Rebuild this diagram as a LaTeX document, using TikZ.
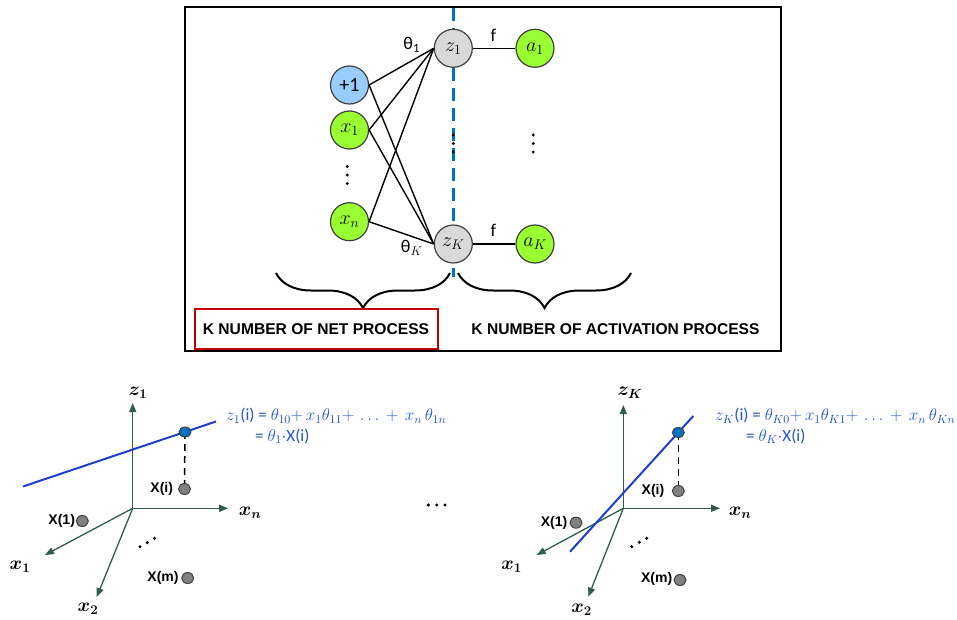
\RequirePackage{fix-cm}
\documentclass[tikz,border=0pt]{standalone}
\usepackage[no-math]{fontspec}
\setmainfont{Liberation Sans}
\newfontfamily\calib{Carlito}
\usepackage{bm}
\usetikzlibrary{arrows.meta,decorations.pathreplacing,shapes.geometric}

\definecolor{biasblue}{HTML}{99CCFF}
\definecolor{neongreen}{HTML}{99FF33}
\definecolor{sumgray}{HTML}{D9D9D9}
\definecolor{ringgray}{HTML}{404040}
\definecolor{splitblue}{HTML}{0070C0}
\definecolor{boxred}{HTML}{C00000}
\definecolor{axisgreen}{HTML}{2F5D50}
\definecolor{lineblue}{HTML}{1F3FD0}
\definecolor{eqblue}{HTML}{2352CC}
\definecolor{pointgray}{HTML}{808080}

\tikzset{
  neuron/.style={circle, draw=ringgray, line width=1.2pt, minimum size=38pt,
    inner sep=0pt, font=\fontsize{20}{20}\selectfont},
  biasnode/.style={neuron, fill=biasblue},
  innode/.style={neuron, fill=neongreen},
  sumnode/.style={neuron, fill=sumgray},
  outnode/.style={neuron, fill=neongreen},
  wire/.style={draw=black, line width=1.4pt},
  wlabel/.style={font=\calib\fontsize{18}{18}\selectfont, inner sep=0pt},
  caption/.style={font=\bfseries\fontsize{15.6}{16}\selectfont, inner sep=0pt},
  brace/.style={draw=black, line width=2pt,
    decorate, decoration={brace, amplitude=35pt, mirror}},
  axis/.style={draw=axisgreen, line width=1.3pt,
    -{Triangle[length=9pt,width=7pt]}},
  axlab/.style={font=\fontsize{19}{19}\selectfont, inner sep=0pt},
  fitline/.style={draw=lineblue, line width=2pt},
  hitpoint/.style={ellipse, fill=splitblue, draw=ringgray, line width=1pt,
    minimum width=12pt, minimum height=10pt, inner sep=0pt},
  sample/.style={ellipse, fill=pointgray, draw=ringgray, line width=1pt,
    minimum width=12pt, minimum height=11pt, inner sep=0pt},
  slab/.style={font=\bfseries\fontsize{14}{14}\selectfont, inner sep=0pt},
  drop/.style={draw=black, line width=1.5pt, dash pattern=on 7pt off 5pt},
  eq/.style={font=\calib\fontsize{17}{20.5}\selectfont, text=eqblue,
    inner sep=0pt, anchor=north west, align=left},
}

\begin{document}
\begin{tikzpicture}[x=1pt, y=-1pt]
\useasboundingbox (0,0) rectangle (957,620);

% ---------- network panel ----------
\node[draw=black, line width=1.5pt, minimum width=596pt, minimum height=344pt,
  inner sep=0pt] (panel) at (483,179) {};

% dividing line between net and activation stages
\coordinate (cutTop) at (453,8);
\coordinate (cutBot) at (453,277);
\draw[draw=splitblue, line width=3pt, dash pattern=on 13pt off 7pt] (cutTop) -- (cutBot);

\node[biasnode] (bias) at (349.5,85) {\calib +1};
\node[innode] (x1) at (349.5,130) {$x_1$};
\node[innode] (xn) at (349.5,221.7) {$x_n$};
\node[sumnode] (z1) at (453.3,48.3) {$z_1$};
\node[sumnode] (zK) at (453.3,244) {$z_K$};
\node[outnode] (a1) at (535,48.3) {$a_1$};
\node[outnode] (aK) at (535,244) {$a_K$};

\foreach \src in {bias,x1,xn}{
  \draw[wire] (\src.east) -- (z1.west);
  \draw[wire] (\src.east) -- (zK.west);
}
\draw[wire] (z1.east) -- (a1.west);
\draw[wire] (zK.east) -- (aK.west);

\node[wlabel] (th1) at (411.7,45) {θ\textsubscript{1}};
\node[wlabel] (thK) at (411.7,248) {θ$_K$};
\node[wlabel] (f1) at (493.3,35) {f};
\node[wlabel] (fK) at (493.3,230) {f};

% vertical ellipses
\foreach \cx/\cy in {347.3/175, 453.3/143.5, 533.3/143.5}{
  \foreach \dy in {-8.5,0,8.5}{
    \fill[black] (\cx,\cy+\dy) circle (1.6pt);
  }
}

% braces and captions
\draw[brace] (276,273) -- (450,273);
\draw[brace] (458,273) -- (631,273);
\node[draw=boxred, line width=2pt, minimum width=243.5pt, minimum height=40pt,
  inner sep=0pt] (netbox) at (316.25,329) {};
\node[caption] (netcap) at (316,329.5) {K NUMBER OF NET PROCESS};
\node[caption] (actcap) at (615.5,329.5) {K NUMBER OF ACTIVATION PROCESS};

% ---------- first neuron: regression plane ----------
\coordinate (oA) at (132.7,508.3);
\coordinate (zA) at (132.7,403);
\coordinate (nA) at (228,508.3);
\coordinate (pA) at (45,555);
\coordinate (qA) at (96.7,597);
\draw[axis] (oA) -- (zA);
\draw[axis] (oA) -- (nA);
\draw[axis] (oA) -- (pA);
\draw[axis] (oA) -- (qA);
\node[axlab] (zAlab) at (138,393) {$\bm{z}_{\bm{1}}$};
\node[axlab] (nAlab) at (250,513) {$\bm{x}_{\bm{n}}$};
\node[axlab] (pAlab) at (20,567) {$\bm{x}_{\bm{1}}$};
\node[axlab] (qAlab) at (88,609) {$\bm{x}_{\bm{2}}$};

\coordinate (lA1) at (23,486.5);
\coordinate (lA2) at (216,421.5);
\draw[fitline] (lA1) -- (lA2);
\node[sample] (xiA) at (184.5,489) {};
\draw[drop] (185,432) -- (xiA.north);
\node[hitpoint] (hA) at (185,432) {};
\node[slab] (xiAlab) at (161.7,489) {X(i)};
\node[sample] (x1A) at (82.3,521) {};
\node[slab] (x1Alab) at (61.7,521) {X(1)};
\node[sample] (xmA) at (187.7,578) {};
\node[slab] (xmAlab) at (163,578) {X(m)};
\foreach \px/\py in {140/546.7, 147.3/542.7, 154.6/538.3}{
  \fill[black] (\px,\py) circle (1.7pt);
}
\node[eq] (eqA) at (226,408) {$z_1$(i) = $\theta_{10}{+}\,x_1\theta_{11}{+}\,\ldots\,+\,x_n\,\theta_{1n}$\\
  \hspace*{29pt}= $\theta_1{\cdot}$X(i)};

% middle ellipsis between the two neurons
\foreach \px in {428.3,436.7,445}{
  \fill[black] (\px,505) circle (1.7pt);
}

% ---------- K-th neuron: regression plane ----------
\coordinate (oB) at (623.3,508.3);
\coordinate (zB) at (623.3,405);
\coordinate (nB) at (720,508.3);
\coordinate (pB) at (536.7,555);
\coordinate (qB) at (588.3,596.7);
\draw[axis] (oB) -- (zB);
\draw[axis] (oB) -- (nB);
\draw[axis] (oB) -- (pB);
\draw[axis] (oB) -- (qB);
\node[axlab] (zBlab) at (630,393) {$\bm{z}_{\bm{K}}$};
\node[axlab] (nBlab) at (740,513) {$\bm{x}_{\bm{n}}$};
\node[axlab] (pBlab) at (511.7,567) {$\bm{x}_{\bm{1}}$};
\node[axlab] (qBlab) at (581.7,610) {$\bm{x}_{\bm{2}}$};

\coordinate (lB1) at (570,551.7);
\coordinate (lB2) at (693.3,416);
\draw[fitline] (lB1) -- (lB2);
\node[sample] (xiB) at (678.3,491) {};
\draw[drop] (678.3,432.5) -- (xiB.north);
\node[hitpoint] (hB) at (678.3,432.5) {};
\node[slab] (xiBlab) at (653,490.7) {X(i)};
\node[sample] (x1B) at (576,522.7) {};
\node[slab] (x1Blab) at (554,522.7) {X(1)};
\node[sample] (xmB) at (680,580) {};
\node[slab] (xmBlab) at (656.7,579) {X(m)};
\foreach \px/\py in {631.7/546.7, 639.3/542.3, 646.7/538.3}{
  \fill[black] (\px,\py) circle (1.7pt);
}
\node[eq] (eqB) at (715,408) {$z_K$(i) = $\theta_{K0}{+}\,x_1\theta_{K1}{+}\,\ldots\,+\,x_n\,\theta_{Kn}$\\
  \hspace*{31pt}= $\theta_K{\cdot}$X(i)};
\end{tikzpicture}
\end{document}
